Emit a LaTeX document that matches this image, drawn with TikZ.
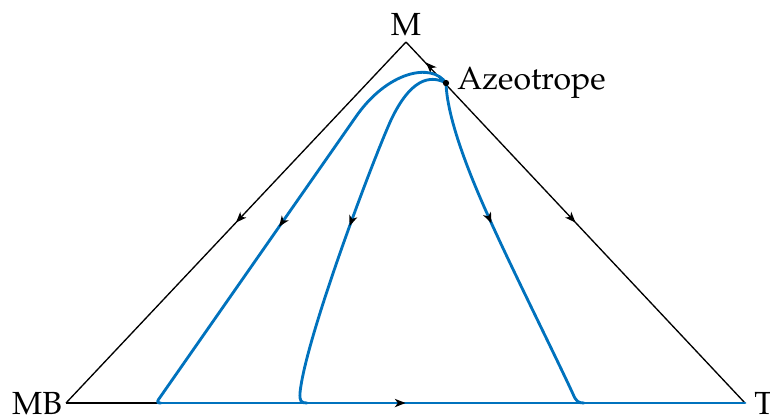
\documentclass[tikz,border=0pt]{standalone}
\usepackage[T1]{fontenc}
\renewcommand{\rmdefault}{ppl}
\usetikzlibrary{arrows.meta,decorations.markings}
\definecolor{flowblue}{RGB}{0,114,189}
\begin{document}
\begin{tikzpicture}[x=0.3pt,y=-0.3pt,
  edge/.style={black, line width=0.4pt},
  flow/.style={flowblue, line width=0.85pt, line cap=round, line join=round},
  tipat/.style={decorate, decoration={markings, mark=at position #1 with {\arrow[black]{Stealth[length=3.2pt,width=2.5pt,inset=0.9pt]}}}},
  lbl/.style={inner sep=1pt, font=\rmfamily\fontsize{9.6}{11}\selectfont}]
\useasboundingbox (0,0) rectangle (770,416);
\coordinate (MB) at (66,403);
\coordinate (T) at (745,403);
\coordinate (M) at (406,42);
\coordinate (A) at (446,83);
\coordinate (B0) at (158,403);
% triangle edges
\draw[edge, postaction={tipat=0.5}] (M) -- (MB);
\draw[edge, postaction={tipat=0.5}] (M) -- (T);
\draw[edge] (MB) -- (T);
\path[tipat=0.5] (A) -- (M);
% flow curves
\draw[flow] (B0) -- (T);
\draw[flow, postaction={tipat=0.53}] (A) .. controls (432,62) and (387,71) .. (355,118)
   -- (158.5,399.5) .. controls (157,402) and (157.5,403) .. (161,403);
\draw[flow, postaction={tipat=0.5}] (A) .. controls (429,74) and (410,80) .. (391,120)
   .. controls (372,162) and (305,340) .. (300,393)
   .. controls (299.5,401) and (301,403) .. (307,403);
\draw[flow, postaction={tipat=0.42}] (A) .. controls (447,115) and (465,165) .. (490,220)
   .. controls (512,269) and (555,355) .. (573,394)
   .. controls (576,401) and (578,403) .. (584,403);
\path[tipat=0.5] (MB) -- (T);
\fill (A) circle[radius=0.95pt];
% labels
\node[lbl, anchor=south, yshift=0.8pt] (lm) at (M) {M};
\node[lbl, anchor=east] (lmb) at (MB) {MB};
\node[lbl, anchor=west, xshift=1.6pt] (lt) at (T) {T};
\node[lbl, anchor=west, xshift=2.2pt] (laz) at (A) {Azeotrope};
\end{tikzpicture}
\end{document}
